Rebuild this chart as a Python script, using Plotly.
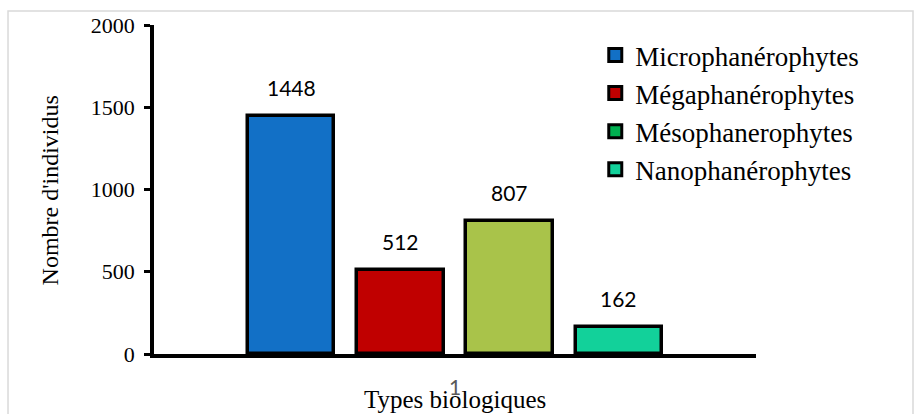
import plotly.graph_objects as go

# Données : nombre d'individus par type biologique
types = ["Microphanérophytes", "Mégaphanérophytes", "Mésophanerophytes", "Nanophanérophytes"]
effectifs = [1448, 512, 807, 162]
bar_colors = ["#1270C6", "#C00000", "#A9C34A", "#12D19A"]
legend_colors = ["#1270C6", "#C00000", "#00B050", "#12D19A"]
x_ticks = ["1"]
y_ticks = [0, 500, 1000, 1500, 2000]

SERIF = "Liberation Serif, Times New Roman, serif"
SANS = "Lato, Open Sans, sans-serif"

fig = go.Figure()

positions = list(range(len(types)))
for pos, name, val, col in zip(positions, types, effectifs, bar_colors):
    fig.add_trace(go.Bar(
        x=[pos], y=[val], width=0.79, name=name,
        marker=dict(color=col, line=dict(color="black", width=3.5)),
        showlegend=False, hoverinfo="name+y",
    ))
    fig.add_annotation(
        x=pos, y=val, text=str(val), showarrow=False,
        yanchor="bottom", yshift=14,
        font=dict(family=SANS, size=21, color="black"),
    )

# Légende : carrés colorés bordés de noir
for name, col in zip(types, legend_colors):
    fig.add_trace(go.Scatter(
        x=[None], y=[None], mode="markers", name=name,
        marker=dict(symbol="square", size=13, color=col,
                    line=dict(color="black", width=3)),
    ))

center = (positions[0] + positions[-1]) / 2

fig.add_annotation(
    text="Nombre d'individus", textangle=-90, showarrow=False,
    xref="paper", yref="paper", x=-0.172, y=0.4985,
    xanchor="center", yanchor="middle",
    font=dict(family=SERIF, size=24, color="black"),
)
fig.add_annotation(
    text="Types biologiques", showarrow=False,
    xref="paper", yref="paper", x=0.5, y=-0.137,
    xanchor="center", yanchor="middle",
    font=dict(family=SERIF, size=25, color="black"),
)

# Cadre gris clair autour du graphique
fig.add_shape(type="rect", xref="paper", yref="paper",
              x0=-0.2425, x1=1.2608, y0=-0.25, y1=1.0426,
              line=dict(color="#D9D9D9", width=1.5), layer="below")

fig.update_layout(
    width=915, height=414,
    margin=dict(l=154, r=159, t=25, b=60),
    plot_bgcolor="white", paper_bgcolor="white",
    bargap=0,
    legend=dict(
        x=0.733, y=0.982, xanchor="left", yanchor="top",
        font=dict(family=SERIF, size=27, color="black"),
        itemwidth=30, tracegroupgap=0, bgcolor="rgba(0,0,0,0)",
    ),
    xaxis=dict(
        range=[center - 2.756, center + 2.756],
        tickvals=[center], ticktext=x_ticks,
        showline=True, linecolor="black", linewidth=3.5,
        ticks="", ticklabelstandoff=12,
        tickfont=dict(family=SANS, size=21, color="#595959"),
        showgrid=False, zeroline=False, fixedrange=True,
    ),
    yaxis=dict(
        range=[0, 2000], tickvals=y_ticks,
        showline=True, linecolor="black", linewidth=3.5,
        ticks="outside", ticklen=6, tickwidth=3, tickcolor="black",
        ticklabelstandoff=5,
        tickfont=dict(family=SERIF, size=22, color="black"),
        showgrid=False, zeroline=False,
    ),
)

fig.write_html("out.html")
